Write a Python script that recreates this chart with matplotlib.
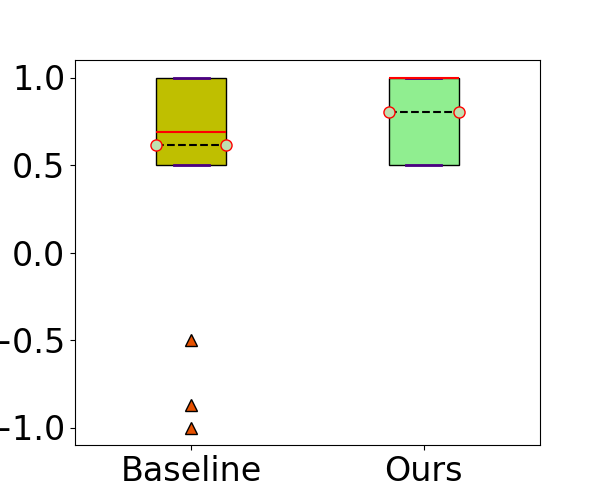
import matplotlib
matplotlib.use('Agg')
import matplotlib.pyplot as plt

# dati
etichette = ['Baseline', 'Ours']
mediane = [0.69, 1.0]
medie = [0.615, 0.805]
q1 = [0.5, 0.5]
q3 = [1.0, 1.0]
minimi = [0.5, 0.5]
massimi = [1.0, 1.0]
outlier = [[-0.5, -0.87, -1.0], []]
colori = ['y', 'lightgreen']

stats = []
for i in range(len(etichette)):
    stats.append({'label': etichette[i], 'med': mediane[i], 'mean': medie[i],
                  'q1': q1[i], 'q3': q3[i], 'whislo': minimi[i],
                  'whishi': massimi[i], 'fliers': outlier[i]})

fig, ax = plt.subplots(figsize=(6, 5), dpi=100)

bp = ax.bxp(stats, widths=0.3, patch_artist=True, showmeans=True, meanline=True,
            boxprops=dict(edgecolor='black', linewidth=1),
            medianprops=dict(color='red', linewidth=1.5),
            capprops=dict(color='indigo', linewidth=2),
            whiskerprops=dict(color='indigo', linewidth=2),
            meanprops=dict(linestyle='--', color='black', linewidth=1.5,
                           marker='o', markersize=8, markerfacecolor='#bfe0b0',
                           markeredgecolor='red'),
            flierprops=dict(marker='^', markersize=8, markerfacecolor='#e65100',
                            markeredgecolor='black'))

for box, c in zip(bp['boxes'], colori):
    box.set_facecolor(c)

ax.tick_params(labelsize=24)
ax.set_ylim(-1.1, 1.1)

plt.savefig('out.png')
